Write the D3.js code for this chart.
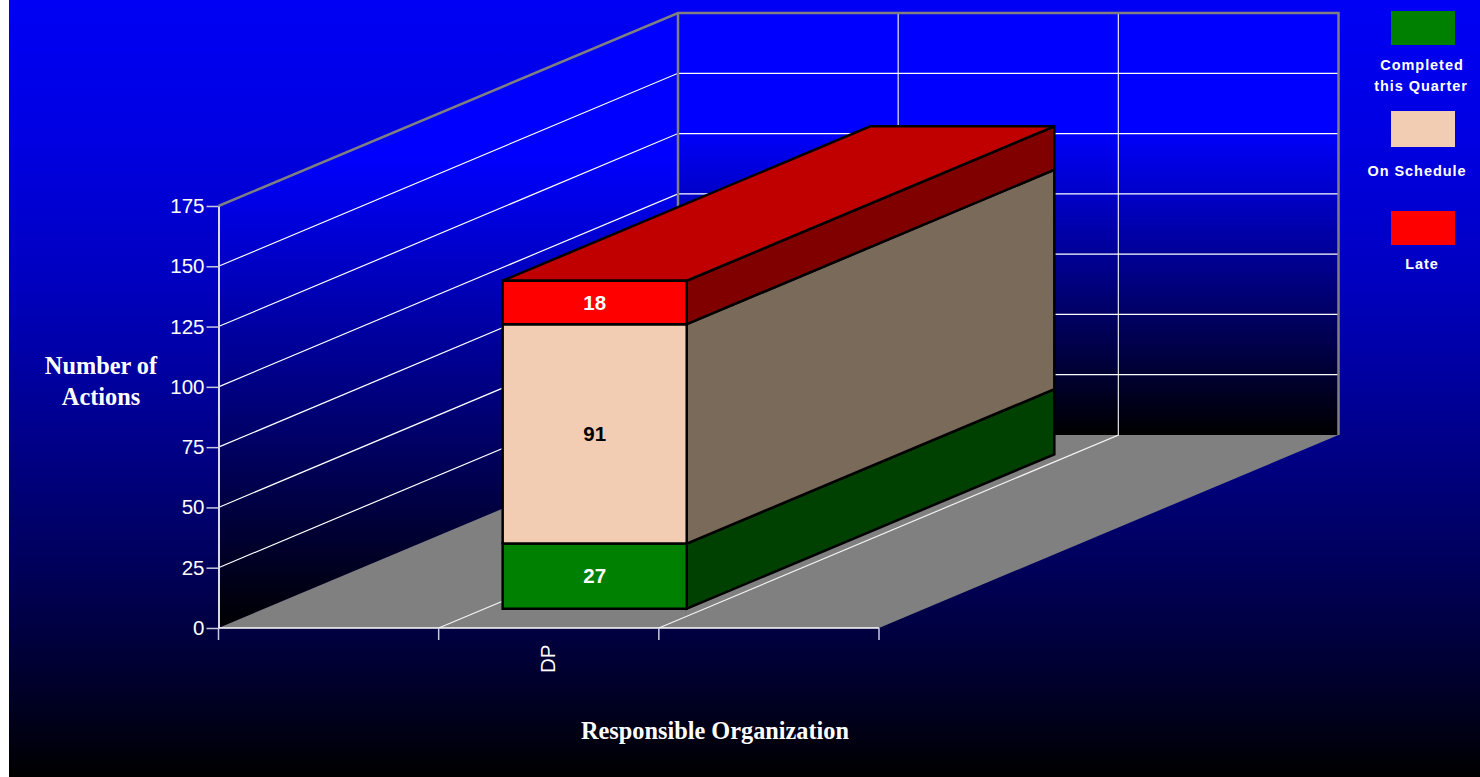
<!DOCTYPE html>
<html>
<head>
<meta charset="utf-8">
<script src="https://cdn.jsdelivr.net/npm/d3@7/dist/d3.min.js"></script>
<style>
html,body{margin:0;padding:0;background:#fff;overflow:hidden}
svg{display:block}
</style>
</head>
<body>
<svg id="chart" width="1480" height="777"></svg>
<script>
// Stacked 3D column of open actions per responsible organization
const categorySlots = ["", "DP", " "];
const seriesNames = ["Completed this Quarter", "On Schedule", "Late"];
const seriesValues = [27, 91, 18];
const yTicks = [0, 25, 50, 75, 100, 125, 150, 175];
const frontColors = ["#008000", "#f3cdb3", "#ff0000"];
const sideColors = ["#004000", "#7a6a5a", "#800000"];
const topColor = "#c00000";
const legendLines = [["Completed", "this Quarter"], ["On Schedule"], ["Late"]];
const labelColors = ["#fff", "#000", "#fff"];

const svg = d3.select("#chart");
const defs = svg.append("defs");

// Scales for the front plane, plus a depth offset that shifts points towards the back wall
const x = d3.scaleBand().domain(categorySlots).range([218.5, 879]);
const y = d3.scaleLinear().domain([0, 175]).range([628, 206]);
const depth = {dx: 459.5, dy: -193};
const pt = (px, value, d) => [px + depth.dx * d, y(value) + depth.dy * d];
const poly = pts => pts.map(p => p.join(",")).join(" ");

// Vertical blue-to-black ramps, expressed in page coordinates
function ramp(id, stops) {
  const g = defs.append("linearGradient").attr("id", id)
    .attr("gradientUnits", "userSpaceOnUse")
    .attr("x1", 0).attr("x2", 0).attr("y1", 0).attr("y2", 777);
  stops.forEach(([py, blue]) => {
    g.append("stop").attr("offset", py / 777).attr("stop-color", d3.rgb(0, 0, blue).formatHex());
  });
}
ramp("bgGrad", [[0, 245], [142, 225], [280, 192], [447, 135], [613, 72], [700, 36], [777, 0]]);
ramp("wallBack", [[128, 255], [435, 0]]);
ramp("wallSide", [[155, 255], [628, 0]]);

svg.append("rect").attr("x", 9).attr("y", 0).attr("width", 1471).attr("height", 777).attr("fill", "url(#bgGrad)");

const left = x.range()[0], right = x.range()[1];
const maxV = y.domain()[1];

svg.append("polygon")
  .attr("points", poly([pt(left, 0, 0), pt(left, maxV, 0), pt(left, maxV, 1), pt(left, 0, 1)]))
  .attr("fill", "url(#wallSide)");
svg.append("polygon")
  .attr("points", poly([pt(left, 0, 1), pt(left, maxV, 1), pt(right, maxV, 1), pt(right, 0, 1)]))
  .attr("fill", "url(#wallBack)");
svg.append("polygon")
  .attr("points", poly([pt(left, 0, 0), pt(right, 0, 0), pt(right, 0, 1), pt(left, 0, 1)]))
  .attr("fill", "#808080");

// Gridlines on both walls
const grid = svg.append("g").attr("fill", "none");
yTicks.filter(t => t > 0 && t < maxV).forEach(t => {
  grid.append("polyline").attr("points", poly([pt(left, t, 0), pt(left, t, 1), pt(right, t, 1)]))
    .attr("stroke", "#ffffff").attr("stroke-width", 1.2);
});
[x(categorySlots[1]), x(categorySlots[2])].forEach(px => {
  grid.append("polyline").attr("points", poly([pt(px, 0, 0), pt(px, 0, 1), pt(px, maxV, 1)]))
    .attr("stroke", "#ffffff").attr("stroke-opacity", 0.9).attr("stroke-width", 1.2);
});

// Grey outline of the wall frame
grid.append("polyline")
  .attr("points", poly([pt(left, maxV, 0), pt(left, maxV, 1), pt(right, maxV, 1), pt(right, 0, 1)]))
  .attr("stroke", "#808080").attr("stroke-width", 2.5);
grid.append("line")
  .attr("x1", pt(left, 0, 1)[0]).attr("y1", pt(left, 0, 1)[1])
  .attr("x2", pt(left, maxV, 1)[0]).attr("y2", pt(left, maxV, 1)[1])
  .attr("stroke", "#808080").attr("stroke-width", 2.5);

// Value axis
const sans = "'Liberation Sans', Arial, sans-serif";
const yAxis = d3.axisLeft(y).tickValues(yTicks).tickSize(12).tickPadding(2).tickSizeOuter(0);
const yG = svg.append("g").attr("transform", `translate(${left},0)`).call(yAxis);
yG.select(".domain").attr("stroke", "#d8d8e8").attr("stroke-width", 2);
yG.selectAll(".tick line").attr("stroke", "#c8c8e0").attr("stroke-width", 1.5);
yG.selectAll(".tick text").attr("fill", "#ffffff").attr("font-family", sans).attr("font-size", 20.5);

// Category axis with ticks on the slot boundaries
const edges = categorySlots.map(c => x(c)).concat(right);
svg.append("line").attr("x1", left).attr("x2", right).attr("y1", y(0)).attr("y2", y(0))
  .attr("stroke", "#ffffff").attr("stroke-width", 1.5);
svg.append("g").selectAll("line").data(edges).join("line")
  .attr("x1", d => d).attr("x2", d => d).attr("y1", y(0)).attr("y2", y(0) + 12)
  .attr("stroke", "#c8c8e0").attr("stroke-width", 1.5);
const catX = x("DP") + x.bandwidth() / 2;
svg.append("text").text(categorySlots[1])
  .attr("transform", `translate(${catX + 6},673) rotate(-90)`)
  .attr("fill", "#fff").attr("font-family", sans).attr("font-size", 20.5);

// Stacked bar: sits between 10% and 90% of the floor depth
const barPad = 0.082 * x.bandwidth();
const bx0 = x("DP") + barPad, bx1 = x("DP") + x.bandwidth() - barPad;
const d0 = 0.1, d1 = 0.9;
const stacked = d3.cumsum(seriesValues);
const bars = svg.append("g").attr("stroke", "#000").attr("stroke-width", 2.5).attr("stroke-linejoin", "miter");
seriesValues.forEach((v, i) => {
  const lo = stacked[i] - v, hi = stacked[i];
  bars.append("polygon")
    .attr("points", poly([pt(bx1, lo, d0), pt(bx1, hi, d0), pt(bx1, hi, d1), pt(bx1, lo, d1)]))
    .attr("fill", sideColors[i]);
});
const total = stacked[stacked.length - 1];
bars.append("polygon")
  .attr("points", poly([pt(bx0, total, d0), pt(bx1, total, d0), pt(bx1, total, d1), pt(bx0, total, d1)]))
  .attr("fill", topColor);
seriesValues.forEach((v, i) => {
  const lo = stacked[i] - v, hi = stacked[i];
  bars.append("polygon")
    .attr("points", poly([pt(bx0, lo, d0), pt(bx1, lo, d0), pt(bx1, hi, d0), pt(bx0, hi, d0)]))
    .attr("fill", frontColors[i]);
});

// Value labels centred on each front face
svg.append("g").selectAll("text").data(seriesValues).join("text")
  .text(d => d)
  .attr("x", pt((bx0 + bx1) / 2, 0, d0)[0])
  .attr("y", (d, i) => pt(0, stacked[i] - d / 2, d0)[1] + 7.1)
  .attr("text-anchor", "middle")
  .attr("fill", (d, i) => labelColors[i])
  .attr("font-family", sans)
  .attr("font-weight", "bold").attr("font-size", 20.5);

// Axis titles
const serif = "'Liberation Serif', 'Times New Roman', serif";
const yTitle = svg.append("g").attr("fill", "#fff").attr("font-family", serif)
  .attr("font-weight", "bold").attr("font-size", 24.3).attr("text-anchor", "middle");
yTitle.append("text").attr("x", 101).attr("y", 373.5).text("Number of");
yTitle.append("text").attr("x", 101).attr("y", 404.5).text("Actions");
svg.append("text").attr("x", 715).attr("y", 738.5).text("Responsible Organization")
  .attr("fill", "#fff").attr("font-family", serif).attr("font-weight", "bold")
  .attr("font-size", 24.3).attr("text-anchor", "middle");

// Legend swatches with their captions beneath
const legendTop = d3.scaleOrdinal().domain(seriesNames).range([11, 111, 211]);
const legendHeight = d3.scaleOrdinal().domain(seriesNames).range([34, 36, 34]);
const captionX = [[1422, 1421], [1417], [1422]];
const captionY = [[70, 91], [176], [269]];
const legend = svg.append("g");
seriesNames.forEach((name, i) => {
  legend.append("rect").attr("x", 1391).attr("y", legendTop(name)).attr("width", 64)
    .attr("height", legendHeight(name)).attr("fill", frontColors[i]);
  legendLines[i].forEach((line, j) => {
    legend.append("text").text(line)
      .attr("x", captionX[i][j]).attr("y", captionY[i][j])
      .attr("text-anchor", "middle").attr("fill", "#fff")
      .attr("font-family", sans)
      .attr("font-weight", "bold").attr("font-size", 14.5).attr("letter-spacing", 0.95);
  });
});
</script>
</body>
</html>
